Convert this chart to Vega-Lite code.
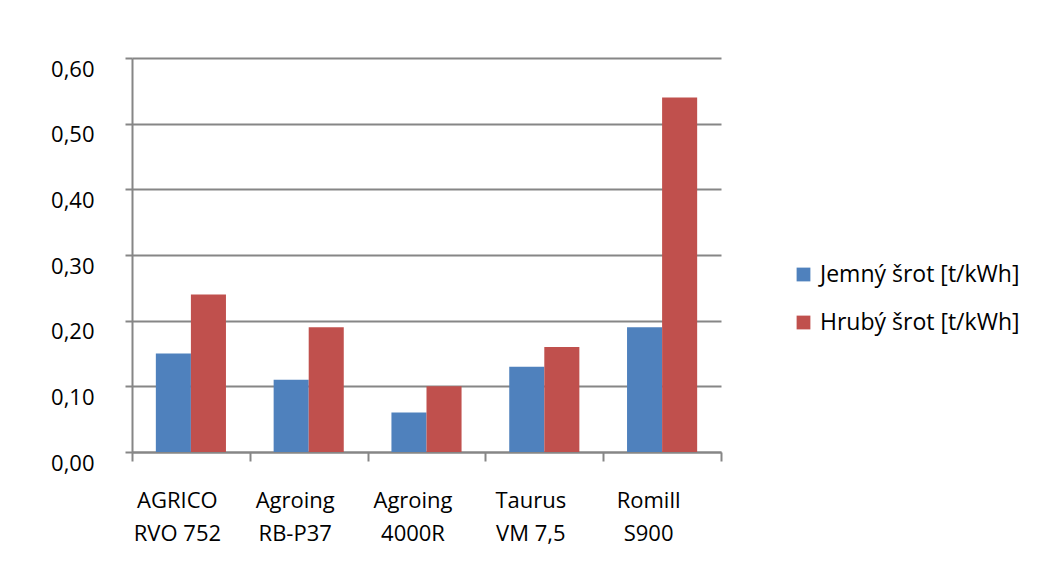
{
  "$schema": "https://vega.github.io/schema/vega-lite/v6.json",
  "width": 589,
  "height": 394,
  "autosize": "none",
  "padding": {"left": 132, "top": 58, "right": 316, "bottom": 126},
  "background": "white",
  "data": {
    "values": [
      {"stroj": "AGRICO RVO 752", "serie": "Jemný šrot [t/kWh]", "hodnota": 0.15},
      {"stroj": "AGRICO RVO 752", "serie": "Hrubý šrot [t/kWh]", "hodnota": 0.24},
      {"stroj": "Agroing RB-P37", "serie": "Jemný šrot [t/kWh]", "hodnota": 0.11},
      {"stroj": "Agroing RB-P37", "serie": "Hrubý šrot [t/kWh]", "hodnota": 0.19},
      {"stroj": "Agroing 4000R", "serie": "Jemný šrot [t/kWh]", "hodnota": 0.06},
      {"stroj": "Agroing 4000R", "serie": "Hrubý šrot [t/kWh]", "hodnota": 0.10},
      {"stroj": "Taurus VM 7,5", "serie": "Jemný šrot [t/kWh]", "hodnota": 0.13},
      {"stroj": "Taurus VM 7,5", "serie": "Hrubý šrot [t/kWh]", "hodnota": 0.16},
      {"stroj": "Romill S900", "serie": "Jemný šrot [t/kWh]", "hodnota": 0.19},
      {"stroj": "Romill S900", "serie": "Hrubý šrot [t/kWh]", "hodnota": 0.54}
    ]
  },
  "mark": {"type": "bar"},
  "encoding": {
    "x": {
      "field": "stroj",
      "type": "nominal",
      "sort": null,
      "scale": {"paddingInner": 0, "paddingOuter": 0},
      "axis": {
        "title": null,
        "labelAngle": 0,
        "labelExpr": "[slice(datum.label, 0, indexof(datum.label, ' ')), slice(datum.label, indexof(datum.label, ' ') + 1)]",
        "labelLineHeight": 33,
        "labelBaseline": "top",
        "labelPadding": 29,
        "labelOffset": -14,
        "tickBand": "extent",
        "tickSize": 9,
        "grid": false
      }
    },
    "xOffset": {"field": "serie", "type": "nominal", "sort": ["Jemný šrot [t/kWh]", "Hrubý šrot [t/kWh]"], "scale": {"paddingInner": 0, "paddingOuter": 0.68}},
    "y": {
      "field": "hodnota",
      "type": "quantitative",
      "scale": {"domain": [0, 0.6], "nice": false},
      "axis": {
        "title": null,
        "values": [0, 0.1, 0.2, 0.3, 0.4, 0.5, 0.6],
        "labelExpr": "replace(format(datum.value, '.2f'), '.', ',')",
        "labelOffset": 11,
        "labelPadding": 31,
        "tickSize": 7,
        "grid": true
      }
    },
    "color": {
      "field": "serie",
      "type": "nominal",
      "sort": ["Jemný šrot [t/kWh]", "Hrubý šrot [t/kWh]"],
      "scale": {"domain": ["Jemný šrot [t/kWh]", "Hrubý šrot [t/kWh]"], "range": ["#4F81BD", "#C0504D"]},
      "legend": {
        "title": null,
        "orient": "none",
        "legendX": 660,
        "legendY": 205,
        "symbolType": "square",
        "symbolSize": 190,
        "symbolStrokeWidth": 0,
        "labelOffset": 5,
        "rowPadding": 24,
        "labelFontSize": 23,
        "labelFont": "Open Sans",
        "labelColor": "#000000",
        "labelLimit": 400
      }
    }
  },
  "config": {
    "view": {"stroke": null},
    "font": "Open Sans",
    "axis": {
      "labelFont": "Open Sans",
      "labelFontSize": 22,
      "labelColor": "#000000",
      "domainColor": "#868686",
      "domainWidth": 2,
      "tickColor": "#868686",
      "tickWidth": 2,
      "gridColor": "#868686",
      "gridWidth": 2,
      "gridOpacity": 1
    }
  }
}
